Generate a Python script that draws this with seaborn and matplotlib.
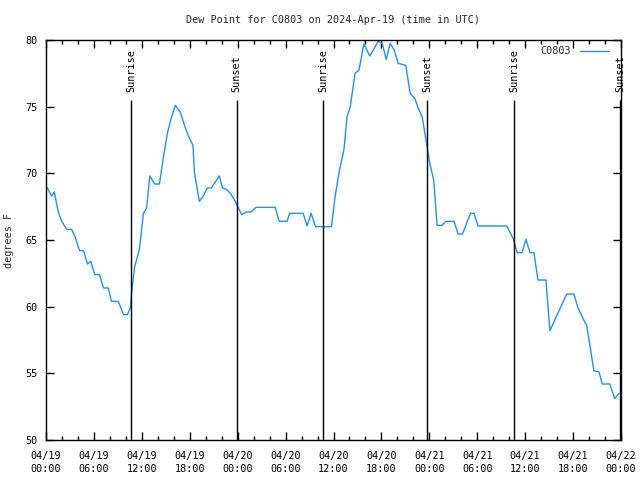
import matplotlib
matplotlib.use("Agg")
import matplotlib.pyplot as plt
import matplotlib.dates as mdates
import seaborn as sns
import pandas as pd

# ---- data (hours since 2024-04-19 00:00 UTC, dew point in F) ----
hours = [0.08, 0.7, 1.04, 1.54, 1.96, 2.6, 3.2, 3.6, 4.2, 4.7, 5.2, 5.6, 6.1, 6.7,
         7.2, 7.8, 8.2, 9.05, 9.7, 10.2, 10.6, 10.7, 11.1, 11.7, 12.2, 12.6, 13.0,
         13.6, 14.2, 14.7, 15.2, 15.7, 16.2, 16.8, 17.4, 17.9, 18.4, 18.6, 19.2,
         19.7, 20.2, 20.7, 21.7, 22.1, 22.6, 23.1, 23.7, 24.5, 25.1, 25.7, 26.3,
         28.7, 29.2, 30.2, 30.5, 32.2, 32.7, 33.2, 33.75, 35.75, 36.2, 36.7, 37.3,
         37.7, 38.1, 38.7, 39.2, 39.8, 40.55, 41.6, 42.1, 42.6, 43.1, 43.6, 44.1,
         45.05, 45.6, 46.2, 46.6, 47.1, 47.65, 48.05, 48.55, 48.97, 49.6, 50.05,
         51.1, 51.6, 52.15, 53.15, 53.6, 54.1, 57.7, 58.5, 59.0, 59.6, 60.1, 60.6,
         61.1, 61.6, 62.6, 63.1, 65.2, 66.1, 66.6, 67.25, 67.7, 68.2, 68.6, 69.25,
         69.65, 70.6, 71.2, 71.75]
dewpoint = [69.0, 68.3, 68.6, 67.1, 66.4, 65.8, 65.8, 65.3, 64.2, 64.2, 63.2, 63.4,
            62.4, 62.4, 61.4, 61.4, 60.4, 60.4, 59.4, 59.4, 60.0, 61.0, 63.0, 64.3,
            67.0, 67.4, 69.8, 69.2, 69.2, 71.2, 73.0, 74.2, 75.1, 74.6, 73.5, 72.7,
            72.1, 70.0, 67.9, 68.3, 68.9, 68.9, 69.8, 68.9, 68.8, 68.5, 67.9, 66.9,
            67.1, 67.1, 67.45, 67.45, 66.4, 66.4, 67.0, 67.0, 66.05, 67.0, 66.0, 66.0,
            68.25, 70.1, 71.75, 74.25, 75.0, 77.5, 77.75, 79.7, 78.8, 79.9, 79.75,
            78.55, 79.75, 79.25, 78.25, 78.1, 76.0, 75.6, 74.9, 74.25, 72.25, 70.75,
            69.5, 66.1, 66.1, 66.4, 66.4, 65.45, 65.45, 67.0, 67.0, 66.05, 66.05,
            65.1, 64.05, 64.05, 65.05, 64.05, 64.05, 62.0, 62.0, 58.2, 60.95, 60.95,
            59.95, 59.1, 58.6, 56.75, 55.2, 55.1, 54.2, 54.2, 53.1, 53.5]

event_labels = ["Sunrise", "Sunset", "Sunrise", "Sunset", "Sunrise", "Sunset"]
event_hours = [10.68, 23.88, 34.73, 47.75, 58.65, 71.88]

yticks = [50, 55, 60, 65, 70, 75, 80]
station = "C0803"
title = "Dew Point for C0803 on 2024-Apr-19 (time in UTC)"
ylabel = "degrees F"

start = pd.Timestamp("2024-04-19 00:00")
df = pd.DataFrame({
    "time": start + pd.to_timedelta(hours, unit="h"),
    "dewpoint": dewpoint,
    "station": station,
})

sns.set_style("ticks")
plt.rcParams["font.family"] = ["DejaVu Sans Mono"]
FS = 7.3

fig = plt.figure(figsize=(6.4, 4.8), dpi=100)
ax = fig.add_axes([46/640, 1 - 440/480, 575/640, 400/480])

sns.lineplot(data=df, x="time", y="dewpoint", hue="station",
             palette=["#1E90FF"], linewidth=1.0, ax=ax)

# sunrise / sunset markers
for lab, h in zip(event_labels, event_hours):
    t = start + pd.Timedelta(hours=h)
    ax.vlines(t, 50, 75.5, color="black", linewidth=1.0, zorder=3)
    ax.text(t, 76.1, lab, rotation=90, ha="center", va="bottom",
            fontsize=FS, color="black")

ax.set_xlim(start, start + pd.Timedelta(hours=72))
ax.set_ylim(50, 80)
ax.set_yticks(yticks)

ax.xaxis.set_major_locator(mdates.HourLocator(byhour=[0, 6, 12, 18]))
ax.xaxis.set_minor_locator(mdates.HourLocator(byhour=list(range(0, 24, 2))))
ax.xaxis.set_major_formatter(mdates.DateFormatter("%m/%d\n%H:%M"))

ax.tick_params(axis="both", which="both", direction="in", top=True, right=True,
               labelsize=FS, colors="black", width=1)
ax.tick_params(axis="both", which="major", length=6)
ax.tick_params(axis="both", which="minor", length=3)
ax.tick_params(axis="x", which="major", pad=8)
ax.tick_params(axis="y", which="major", pad=6)
for lbl in ax.get_xticklabels():
    lbl.set_linespacing(1.35)

for s in ax.spines.values():
    s.set_color("black")
    s.set_linewidth(1.0)
    s.set_visible(True)

ax.set_xlabel("")
ax.set_ylabel(ylabel, fontsize=FS, labelpad=8)
ax.set_title(title, fontsize=FS, pad=12)

leg = ax.legend(loc="upper right", bbox_to_anchor=(1 - 6/575, 1.0),
                frameon=False, markerfirst=False,
                fontsize=FS, handlelength=2.9, borderaxespad=0.2,
                handletextpad=0.8)

fig.savefig("out.png", dpi=100)
